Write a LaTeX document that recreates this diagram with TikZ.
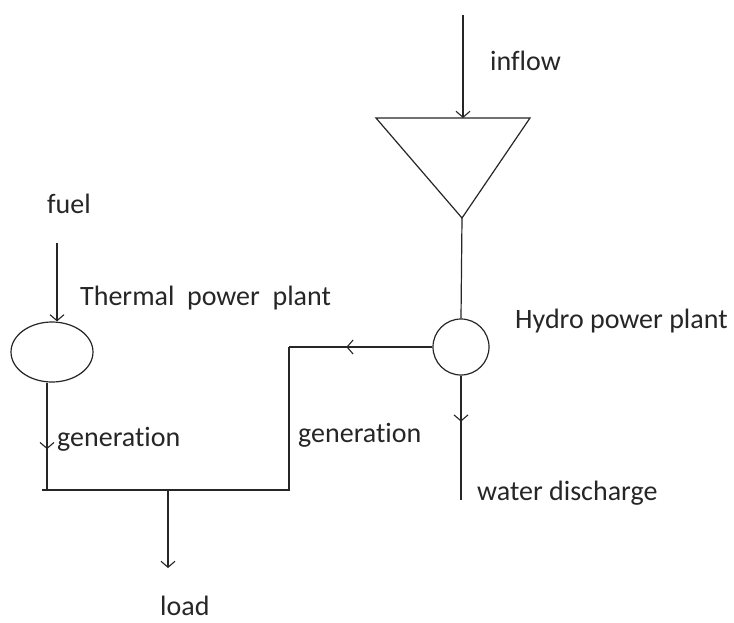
\documentclass[tikz,border=0pt]{standalone}
\usepackage{fontspec}
\setmainfont{Carlito}[Ligatures=NoCommon]
\usetikzlibrary{arrows.meta,shapes.geometric,decorations.markings}
\tikzset{
  wire/.style={line width=1.2pt, draw=black!85},
  lbl/.style={inner sep=0pt, anchor=base west, text=black!85, font=\fontsize{28}{32}\selectfont},
  tip/.style={-{Straight Barb[length=6pt,width=14pt,line width=1.1pt]}},
  midtip/.style={postaction={decorate}, decoration={markings, mark=at position #1 with {\arrow{Straight Barb[length=6pt,width=14pt,line width=1.1pt]}}}}
}
\begin{document}
\begin{tikzpicture}[x=1pt,y=-1pt]
\useasboundingbox[fill=white] (0,0) rectangle (734,622);
% coordinates
\coordinate (inTop) at (463,15);
\coordinate (triTop) at (463,118);
\coordinate (triL) at (376,118);
\coordinate (triR) at (530,118);
\coordinate (apex) at (462,218);
\coordinate (fuelTop) at (57,243);
\coordinate (tj) at (47,490);
\coordinate (busL) at (42,490);
\coordinate (bend1) at (289,347);
\coordinate (bend2) at (289,490);
\coordinate (lj) at (168,490);
\coordinate (loadEnd) at (168,568);
\coordinate (disEnd) at (461,500);
% nodes
\node[wire, draw, circle, minimum size=56pt, inner sep=0pt] (hydro) at (461,347) {};
\node[wire, draw, ellipse, minimum width=82pt, minimum height=60pt, inner sep=0pt] (thermal) at (52,352) {};
% reservoir
\draw[wire] (triL) -- (triR) -- (apex) -- cycle;
% connectors
\draw[wire, tip] (inTop) -- (triTop);
\draw[wire] (apex) -- (hydro.north);
\draw[wire, tip] (fuelTop) -- (fuelTop |- thermal.north);
\draw[wire, midtip=0.62] (thermal.south -| tj) -- (tj);
\draw[wire, midtip=0.6] (hydro.west) -- (bend1);
\draw[wire] (bend1) -- (bend2) -- (busL);
\draw[wire] (47,486) -- (tj);
\draw[wire, tip] (lj) -- (loadEnd);
\draw[wire, midtip=0.37] (hydro.south) -- (disEnd);
% labels
\node[lbl] (tInflow) at (490,70) {inflow};
\node[lbl] (tFuel) at (47,213) {fuel};
\node[lbl] (tThermal) at (80,305) {Thermal~~power~~plant};
\node[lbl] (tHydro) at (515,328) {Hydro power plant};
\node[lbl] (tGen1) at (57,446) {generation};
\node[lbl] (tGen2) at (298,442) {generation};
\node[lbl] (tWater) at (477,500) {water discharge};
\node[lbl] (tLoad) at (160,615) {load};
\end{tikzpicture}
\end{document}
